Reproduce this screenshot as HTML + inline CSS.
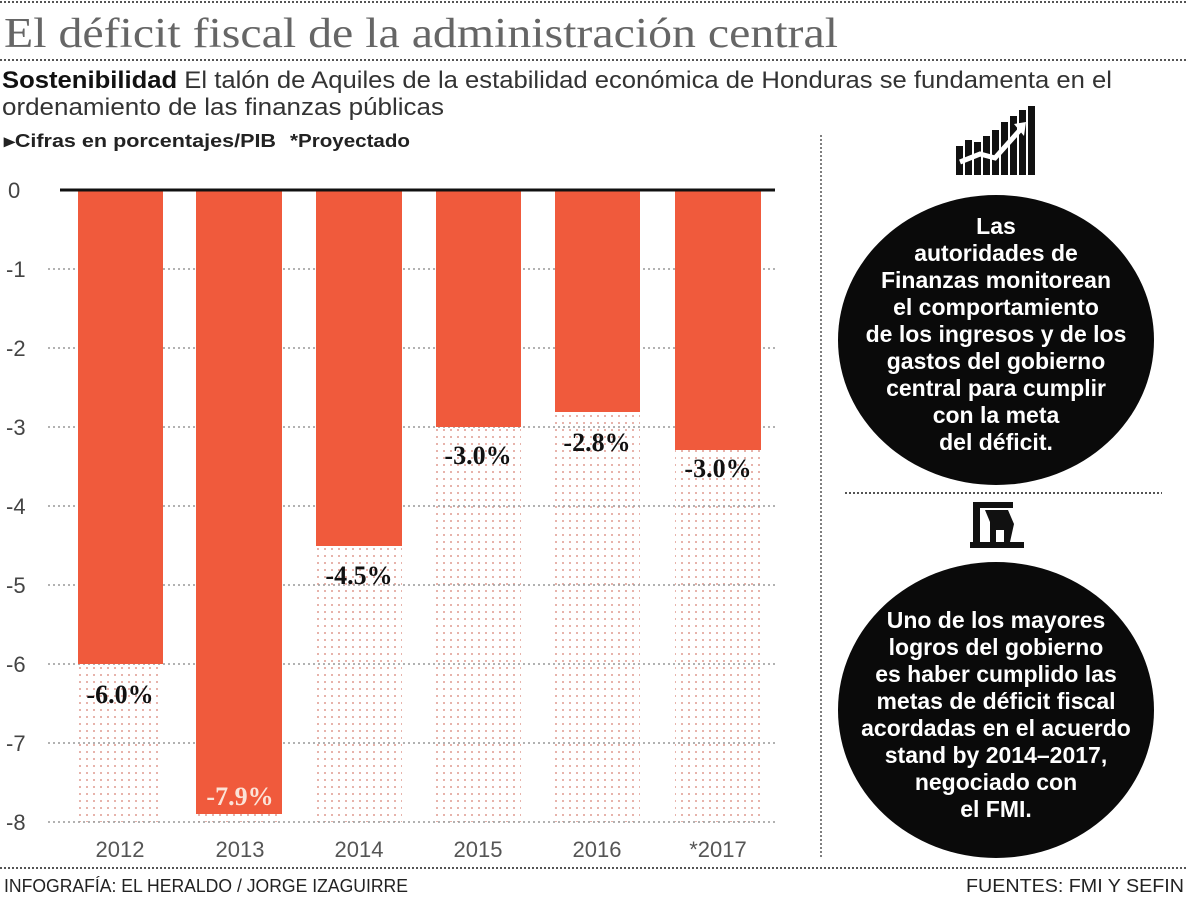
<!DOCTYPE html>
<html><head><meta charset="utf-8"><style>
html,body{margin:0;padding:0;background:#fff;}
svg{display:block;}
</style></head><body>
<svg width="1188" height="900" xmlns="http://www.w3.org/2000/svg" font-family="Liberation Sans, sans-serif">
<defs>
<pattern id="dots" x="0" y="0" width="7" height="7" patternUnits="userSpaceOnUse">
<rect x="2" y="2" width="2" height="2" fill="#e7b3ab"/>
</pattern>
</defs>
<rect width="1188" height="900" fill="#fff"/>
<line x1="0" y1="2" x2="1188" y2="2" stroke="#555" stroke-width="2" stroke-dasharray="2,2"/>
<line x1="0" y1="60" x2="1188" y2="60" stroke="#555" stroke-width="2" stroke-dasharray="2,2"/>
<line x1="0" y1="868" x2="1188" y2="868" stroke="#555" stroke-width="2" stroke-dasharray="2,2"/>
<line x1="821" y1="135" x2="821" y2="858" stroke="#555" stroke-width="1.5" stroke-dasharray="2,2"/>
<line x1="845" y1="493" x2="1162" y2="493" stroke="#555" stroke-width="2" stroke-dasharray="2,2"/>
<text x="4" y="47" font-family="Liberation Serif, serif" font-size="42" fill="#666" textLength="834" lengthAdjust="spacingAndGlyphs">El déficit fiscal de la administración central</text>
<text x="2" y="88" font-size="24" fill="#333" textLength="1110" lengthAdjust="spacingAndGlyphs"><tspan font-weight="bold" fill="#111">Sostenibilidad</tspan> El talón de Aquiles de la estabilidad económica de Honduras se fundamenta en el</text>
<text x="2" y="115" font-size="24" fill="#333" textLength="442" lengthAdjust="spacingAndGlyphs">ordenamiento de las finanzas públicas</text>
<text x="4" y="147" font-size="18" font-weight="bold" fill="#222" textLength="272" lengthAdjust="spacingAndGlyphs">▸Cifras en porcentajes/PIB</text>
<text x="290" y="147" font-size="18" font-weight="bold" fill="#222" textLength="120" lengthAdjust="spacingAndGlyphs">*Proyectado</text>
<g fill="url(#dots)">
<rect x="78" y="664" width="85" height="158"/>
<rect x="196" y="814" width="86" height="8"/>
<rect x="316" y="546" width="86" height="276"/>
<rect x="436" y="427" width="85" height="395"/>
<rect x="555" y="412" width="85" height="410"/>
<rect x="675" y="450" width="86" height="372"/>
</g>
<g stroke="#999" stroke-width="1.5" stroke-dasharray="2,3">
<line x1="48" y1="269" x2="775" y2="269"/>
<line x1="48" y1="348" x2="775" y2="348"/>
<line x1="48" y1="427" x2="775" y2="427"/>
<line x1="48" y1="506" x2="775" y2="506"/>
<line x1="48" y1="585" x2="775" y2="585"/>
<line x1="48" y1="664" x2="775" y2="664"/>
<line x1="48" y1="743" x2="775" y2="743"/>
<line x1="48" y1="822" x2="775" y2="822"/>
</g>
<g fill="#f05a3c">
<rect x="78" y="190" width="85" height="474"/>
<rect x="196" y="190" width="86" height="624"/>
<rect x="316" y="190" width="86" height="356"/>
<rect x="436" y="190" width="85" height="237"/>
<rect x="555" y="190" width="85" height="222"/>
<rect x="675" y="190" width="86" height="260"/>
</g>
<line x1="60" y1="190" x2="775" y2="190" stroke="#111" stroke-width="3"/>
<g font-size="22" fill="#444">
<text x="8" y="198">0</text>
<text x="6" y="277">-1</text>
<text x="6" y="356">-2</text>
<text x="6" y="435">-3</text>
<text x="6" y="514">-4</text>
<text x="6" y="593">-5</text>
<text x="6" y="672">-6</text>
<text x="6" y="751">-7</text>
<text x="6" y="830">-8</text>
</g>
<g font-family="Liberation Serif, serif" font-weight="bold" font-size="26" text-anchor="middle">
<text x="120" y="703" fill="#111">-6.0%</text>
<text x="240" y="805" fill="#fbe3d8">-7.9%</text>
<text x="359" y="584" fill="#111">-4.5%</text>
<text x="478" y="464" fill="#111">-3.0%</text>
<text x="597" y="451" fill="#111">-2.8%</text>
<text x="718" y="477" fill="#111">-3.0%</text>
</g>
<g font-size="22" fill="#555" text-anchor="middle">
<text x="120" y="857">2012</text>
<text x="240" y="857">2013</text>
<text x="359" y="857">2014</text>
<text x="478" y="857">2015</text>
<text x="597" y="857">2016</text>
<text x="718" y="857">*2017</text>
</g>
<text x="4" y="892" font-size="18" fill="#222" textLength="404" lengthAdjust="spacingAndGlyphs">INFOGRAFÍA: EL HERALDO / JORGE IZAGUIRRE</text>
<text x="1184" y="892" font-size="18" fill="#222" text-anchor="end" textLength="218" lengthAdjust="spacingAndGlyphs">FUENTES: FMI Y SEFIN</text>
<g fill="#111">
<rect x="956" y="146" width="7" height="29"/>
<rect x="965" y="140" width="7" height="35"/>
<rect x="974" y="142" width="7" height="33"/>
<rect x="983" y="136" width="7" height="39"/>
<rect x="992" y="130" width="7" height="45"/>
<rect x="1001" y="122" width="7" height="53"/>
<rect x="1010" y="116" width="7" height="59"/>
<rect x="1019" y="110" width="7" height="65"/>
<rect x="1028" y="106" width="7" height="69"/>
</g>
<polyline points="960,162 980,154 995,158 1020,130" fill="none" stroke="#fff" stroke-width="5"/>
<polygon points="1014,124 1026,122 1024,136" fill="#fff"/>
<g fill="#111">
<rect x="973" y="502" width="7" height="46"/>
<rect x="973" y="502" width="40" height="6"/>
<rect x="970" y="542" width="54" height="6"/>
<path d="M985 510 L1008 510 L1014 524 L1010 542 L1004 542 L1004 530 L996 530 L996 542 L990 542 L990 522 Z"/>
</g>
<ellipse cx="996" cy="340" rx="158" ry="145" fill="#0a0a0a"/>
<ellipse cx="996" cy="710" rx="158" ry="148" fill="#0a0a0a"/>
<g font-size="23" font-weight="bold" fill="#fff" text-anchor="middle">
<text x="996" y="234">Las</text>
<text x="996" y="261">autoridades de</text>
<text x="996" y="288">Finanzas monitorean</text>
<text x="996" y="315">el comportamiento</text>
<text x="996" y="342">de los ingresos y de los</text>
<text x="996" y="369">gastos del gobierno</text>
<text x="996" y="396">central para cumplir</text>
<text x="996" y="423">con la meta</text>
<text x="996" y="450">del déficit.</text>
<text x="996" y="628">Uno de los mayores</text>
<text x="996" y="655">logros del gobierno</text>
<text x="996" y="682">es haber cumplido las</text>
<text x="996" y="709">metas de déficit fiscal</text>
<text x="996" y="736">acordadas en el acuerdo</text>
<text x="996" y="763">stand by 2014–2017,</text>
<text x="996" y="790">negociado con</text>
<text x="996" y="817">el FMI.</text>
</g>
</svg>
</body></html>
